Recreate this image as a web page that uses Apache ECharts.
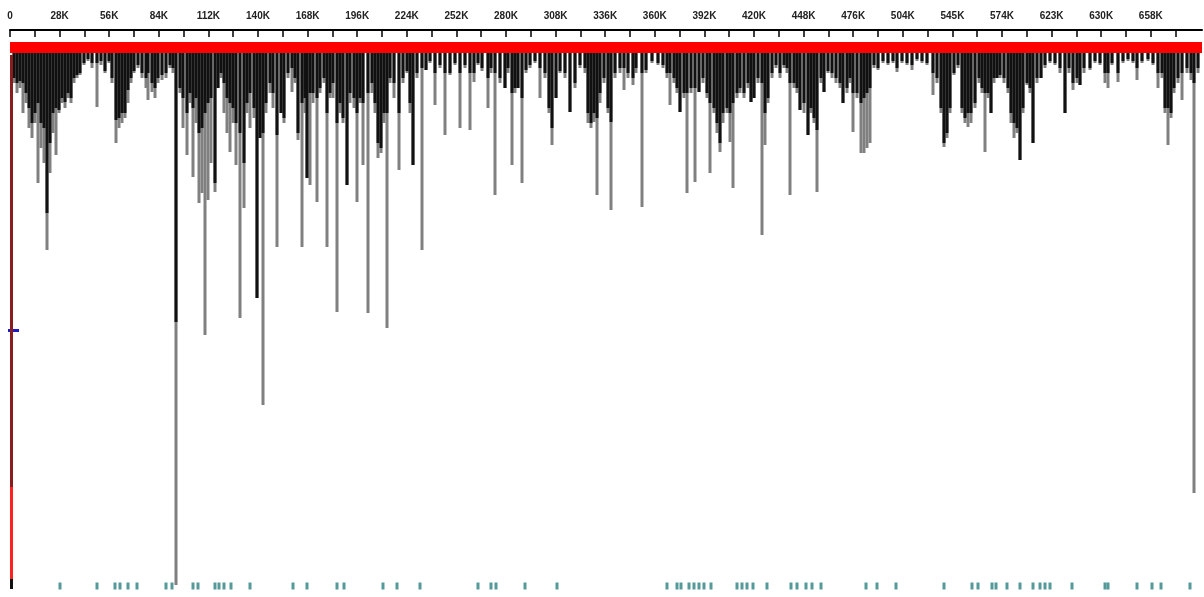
<!DOCTYPE html>
<html>
<head>
<meta charset="utf-8">
<title>coverage</title>
<script src="https://cdn.jsdelivr.net/npm/echarts@6/dist/echarts.min.js"></script>
<style>
  html, body { margin: 0; padding: 0; background: #fff; }
  #main { width: 1204px; height: 597px; }
</style>
</head>
<body>
<div id="main"></div>
<script>
// tick labels along the top ruler
var tickLabels = ["0", "28K", "56K", "84K", "112K", "140K", "168K", "196K", "224K", "252K", "280K", "308K",
  "336K", "360K", "392K", "420K", "448K", "476K", "504K", "545K", "574K", "623K", "630K", "658K"];

// bar positions (ruler units) and depths of the gray and black tracks
var barPos = [4, 7, 10, 13, 16, 19, 22, 25, 28, 31, 34, 37, 40, 43, 46, 49, 52, 55, 58, 61, 64, 67, 70, 74, 78, 82, 87, 91, 95, 99,
  102, 106, 109, 112, 115, 118, 121, 124, 128, 132, 136, 138, 142, 145, 148, 152, 156, 160, 163, 166, 170, 173, 177, 180, 183, 186, 189, 192, 195, 198,
  201, 205, 208, 211, 214, 217, 220, 223, 226, 230, 234, 237, 240, 244, 247, 250, 253, 256, 260, 263, 267, 271, 274, 278, 282, 285, 288, 292, 295, 297,
  300, 303, 307, 310, 314, 317, 320, 323, 327, 330, 333, 337, 340, 344, 347, 350, 353, 358, 362, 365, 368, 371, 374, 377, 380, 384, 389, 393, 397,
  400, 403, 407, 412, 416, 420, 425, 430, 435, 440, 445, 450, 455, 460, 464, 468, 472, 478, 481, 485, 490, 495, 498,
  502, 505, 508, 512, 516, 520, 525, 530, 535, 539, 542, 546, 550, 555, 560, 565, 570, 575, 578, 581, 584, 587, 590, 594, 598,
  601, 605, 610, 614, 618, 623, 626, 632, 636, 642, 648, 653, 657, 660, 664, 667, 670, 674, 677, 681, 685, 689, 693, 697,
  700, 704, 707, 710, 713, 717, 720, 723, 727, 730, 734, 738, 741, 744, 748, 752, 755, 758, 762, 766, 770, 774, 777, 780, 784, 787, 790, 794, 798,
  801, 804, 807, 811, 814, 818, 822, 826, 830, 833, 837, 840, 843, 847, 851, 854, 857, 860, 864, 868, 873, 878, 883, 887, 892, 897,
  902, 907, 912, 917, 923, 927, 931, 934, 937, 940, 944, 948, 952, 955, 958, 961, 965, 969, 972, 975, 978, 981, 984, 987, 990, 994, 998,
  1001, 1004, 1007, 1010, 1013, 1017, 1020, 1023, 1027, 1031, 1035, 1040, 1045, 1050, 1055, 1059, 1063, 1067, 1070, 1074, 1080, 1085, 1090, 1095, 1098,
  1102, 1108, 1113, 1118, 1123, 1127, 1132, 1138, 1143, 1148, 1152, 1155, 1158, 1161, 1164, 1168, 1172, 1177, 1181, 1184, 1188];

var grayDepth = [30, 40, 35, 60, 50, 75, 85, 70, 130, 95, 110, 197, 120, 80, 102, 60, 50, 55, 45, 50, 30, 25, 22, 12, 8, 15, 54, 12, 20, 10,
  30, 90, 75, 70, 65, 50, 30, 20, 15, 25, 35, 47, 39, 45, 30, 27, 25, 15, 20, 532, 40, 75, 102, 50, 124, 70, 150, 140, 282, 147,
  110, 139, 35, 25, 60, 80, 99, 70, 112, 265, 155, 60, 75, 65, 245, 85, 352, 60, 40, 55, 194, 60, 70, 25, 39, 30, 87, 194, 60, 125,
  132, 50, 149, 40, 30, 194, 45, 45, 259, 60, 70, 132, 50, 55, 149, 50, 112, 260, 40, 60, 105, 100, 70, 275, 30, 45, 117, 30, 20,
  60, 112, 25, 197, 17, 10, 52, 15, 82, 22, 12, 75, 15, 77, 29, 12, 18, 55, 20, 142, 30, 35, 20,
  112, 40, 35, 130, 20, 15, 10, 45, 25, 60, 92, 45, 20, 25, 59, 35, 15, 20, 70, 75, 69, 142, 50, 30, 60,
  157, 25, 20, 37, 25, 32, 20, 154, 20, 10, 12, 15, 25, 52, 30, 40, 59, 45, 140, 40, 129, 39, 30, 45,
  120, 60, 80, 99, 70, 60, 89, 135, 45, 40, 45, 35, 49, 45, 30, 182, 92, 50, 25, 15, 25, 15, 20, 142, 35, 40, 57, 60, 82,
  60, 70, 139, 30, 39, 20, 25, 30, 35, 50, 40, 30, 79, 45, 100, 100, 95, 90, 15, 17, 10, 12, 10, 19, 10, 12,
  17, 8, 10, 12, 42, 30, 60, 94, 85, 60, 22, 15, 60, 70, 74, 70, 55, 30, 40, 99, 45, 60, 30, 25, 25, 30, 40,
  70, 85, 80, 107, 60, 32, 40, 90, 30, 25, 15, 10, 12, 20, 60, 20, 37, 30, 32, 20, 17, 10, 12, 30, 35,
  12, 29, 10, 8, 10, 27, 10, 8, 12, 35, 25, 60, 92, 65, 40, 30, 47, 20, 27, 440, 20];

var blackDepth = [25, 30, 28, 30, 40, 55, 70, 60, 50, 70, 75, 160, 90, 60, 55, 57, 45, 49, 40, 45, 25, 22, 20, 10, 6, 10, 10, 8, 18, 8,
  25, 67, 65, 60, 60, 37, 25, 18, 12, 20, 25, 20, 30, 35, 25, 22, 20, 12, 15, 269, 35, 45, 60, 40, 55, 45, 80, 75, 60, 50,
  45, 130, 35, 20, 30, 45, 50, 55, 70, 80, 110, 50, 40, 55, 245, 85, 80, 50, 30, 40, 82, 60, 65, 20, 15, 25, 80, 50, 45, 125,
  40, 40, 45, 35, 25, 60, 40, 30, 70, 50, 65, 132, 40, 45, 60, 45, 50, 40, 30, 50, 90, 95, 60, 60, 25, 30, 60, 25, 18,
  50, 112, 20, 15, 17, 8, 20, 12, 20, 20, 10, 20, 12, 20, 20, 10, 15, 25, 15, 20, 25, 35, 15,
  40, 35, 35, 45, 17, 12, 8, 15, 20, 55, 75, 45, 18, 20, 59, 30, 12, 15, 60, 70, 60, 65, 40, 25, 55,
  69, 20, 15, 15, 20, 25, 15, 20, 17, 8, 10, 12, 20, 20, 25, 35, 59, 40, 40, 35, 35, 39, 25, 40,
  50, 55, 70, 90, 60, 55, 60, 50, 40, 35, 40, 30, 49, 45, 25, 30, 60, 45, 20, 12, 20, 12, 15, 30, 30, 35, 57, 50, 82,
  55, 65, 77, 25, 39, 18, 20, 25, 30, 50, 35, 25, 40, 40, 50, 45, 40, 35, 12, 15, 8, 10, 8, 15, 8, 10,
  12, 6, 8, 10, 20, 25, 55, 90, 80, 55, 20, 12, 55, 65, 60, 60, 50, 25, 35, 40, 40, 60, 25, 25, 22, 25, 35,
  60, 70, 75, 107, 55, 30, 35, 90, 25, 25, 12, 8, 10, 15, 60, 15, 30, 25, 32, 15, 15, 8, 10, 20, 20,
  10, 20, 8, 6, 8, 15, 8, 6, 10, 20, 20, 55, 55, 60, 35, 25, 20, 15, 20, 30, 15];

// small teal feature marks along the bottom
var featurePos = [50, 87, 105, 110, 118, 127, 156, 162, 183, 188, 205, 209, 214, 221, 240, 283, 297, 327, 334, 373, 387, 410,
  468, 481, 486, 515, 547, 657, 667, 671, 679, 684, 689, 694, 701, 727, 732, 737, 743, 757, 781, 787, 796, 802, 811,
  856, 867, 886, 934, 962, 968, 982, 986, 997, 1010, 1023, 1030, 1035, 1040, 1062, 1095, 1098, 1127, 1142, 1151, 1180];
var featureRow = 533;

var STEP = 49.6; // ruler units between two labels

var chart = echarts.init(document.getElementById("main"));

var grayData = barPos.map(function (p, i) { return [p, grayDepth[i]]; });
var blackData = barPos.map(function (p, i) { return [p, blackDepth[i]]; });
var featureData = featurePos.map(function (p) { return [p, featureRow]; });

var labelValues = tickLabels.map(function (_, i) { return i * STEP; });
var tickValues = [];
for (var i = 0; i < tickLabels.length * 2; i++) tickValues.push(i * STEP / 2);

chart.setOption({
  animation: false,
  backgroundColor: "#fff",
  grid: { left: 10, top: 30, width: 1192, height: 560 },
  xAxis: {
    type: "value",
    position: "top",
    min: 0,
    max: 1192,
    axisLine: { show: true, onZero: false, lineStyle: { color: "#000", width: 2 } },
    axisTick: { show: true, inside: true, length: 7, customValues: tickValues, lineStyle: { color: "#000", width: 1.5 } },
    axisLabel: {
      customValues: labelValues,
      margin: 9,
      fontSize: 10,
      fontWeight: "bold",
      fontFamily: "Liberation Sans, Arial, sans-serif",
      color: "#222",
      formatter: function (v) { return tickLabels[Math.round(v / STEP)] || ""; }
    },
    splitLine: { show: false }
  },
  yAxis: {
    type: "value",
    inverse: true,
    min: -23,
    max: 537,
    show: false,
    splitLine: { show: false }
  },
  graphic: [
    // little blue marker on the left edge
    { type: "rect", shape: { x: 8, y: 329, width: 11, height: 3 }, style: { fill: "#1a1acc" } },
    { type: "rect", shape: { x: 10, y: 322, width: 3, height: 16 }, style: { fill: "#2a2a99" } }
  ],
  series: [
    {
      name: "gray",
      type: "bar",
      barWidth: 3,
      barGap: "-100%",
      itemStyle: { color: "#808080" },
      data: grayData,
      markArea: {
        silent: true,
        itemStyle: { color: "#ff0000" },
        data: [[{ coord: [0, -11] }, { coord: [1192, 0] }]]
      },
      markLine: {
        silent: true,
        symbol: "none",
        label: { show: false },
        data: [
          [{ coord: [1, 2], lineStyle: { color: "#8b1c1c", width: 3, type: "solid" } }, { coord: [1, 434] }],
          [{ coord: [1, 434], lineStyle: { color: "#ff2020", width: 3, type: "solid" } }, { coord: [1, 526] }],
          [{ coord: [1, 526], lineStyle: { color: "#111", width: 3, type: "solid" } }, { coord: [1, 536] }]
        ]
      }
    },
    {
      name: "black",
      type: "bar",
      barWidth: 3,
      barGap: "-100%",
      itemStyle: { color: "#111" },
      data: blackData
    },
    {
      name: "features",
      type: "scatter",
      symbol: "rect",
      symbolSize: [3, 7],
      itemStyle: { color: "#2a8080" },
      data: featureData
    }
  ]
});
</script>
</body>
</html>
